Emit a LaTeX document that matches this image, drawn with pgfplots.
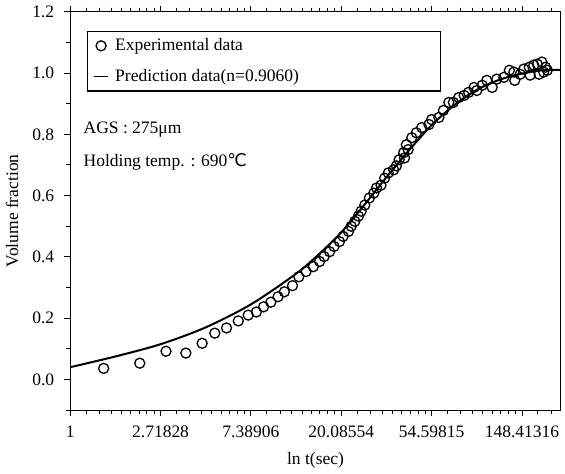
\documentclass[border=0pt]{standalone}
\usepackage{pgfplots}
\pgfplotsset{compat=1.18}
\usepackage{fontspec}
\setmainfont{Liberation Serif}
\newfontfamily\dejavu{DejaVu Sans}
\begin{document}
\fontsize{17.5}{21}\selectfont
\begin{tikzpicture}
\begin{axis}[
  scale only axis,
  width=489bp, height=397bp,
  xmin=0, xmax=5.43,
  ymin=-0.1, ymax=1.2,
  axis line style={line width=1.1bp},
  tick style={line width=0.9bp, black},
  tick align=outside,
  xtick pos=both,
  ytick pos=left,
  major tick length=6bp,
  minor tick length=4bp,
  xtick={0,1,2,3,4,5},
  xticklabels={1,2.71828,7.38906,20.08554,54.59815,148.41316},
  minor xtick={0.17473,0.32342,0.45284,0.56740,0.67020,0.76338,0.84862,0.92720,
    1.17473,1.32342,1.45284,1.56740,1.67020,1.76338,1.84862,1.92720,
    2.17473,2.32342,2.45284,2.56740,2.67020,2.76338,2.84862,2.92720,
    3.17473,3.32342,3.45284,3.56740,3.67020,3.76338,3.84862,3.92720,
    4.17473,4.32342,4.45284,4.56740,4.67020,4.76338,4.84862,4.92720,
    5.17473,5.32342},
  ytick={0,0.2,0.4,0.6,0.8,1.0,1.2},
  minor ytick={-0.1,0.1,0.3,0.5,0.7,0.9,1.1},
  yticklabel style={xshift=-4bp, /pgf/number format/.cd, fixed, fixed zerofill, precision=1},
  /pgf/number format/assume math mode=true,
  xticklabel style={yshift=-4bp},
  xlabel={ln t(sec)},
  ylabel={Volume fraction},
  xlabel style={yshift=-2bp},
  ylabel style={yshift=2bp},
  legend style={at={(0.035,0.952)}, anchor=north west, draw=black, line width=1.1bp,
    row sep=12bp, inner xsep=5bp, inner ysep=5bp, font=\fontsize{17.5}{21}\selectfont},
  legend cell align=left,
]
\addplot[only marks, mark=o, mark size=5bp, mark options={line width=1.3bp, fill=white}, black] coordinates {
(0.37,0.036) (0.77,0.053) (1.06,0.092) (1.28,0.086) (1.46,0.118) (1.60,0.151)
(1.73,0.168) (1.86,0.191) (1.97,0.210) (2.06,0.220) (2.14,0.237) (2.22,0.252)
(2.30,0.270) (2.37,0.286) (2.46,0.306) (2.53,0.335) (2.61,0.352) (2.69,0.368)
(2.76,0.385) (2.81,0.401) (2.87,0.417) (2.92,0.434) (2.98,0.450) (3.02,0.467)
(3.08,0.483) (3.11,0.500) (3.15,0.516) (3.19,0.533) (3.22,0.549) (3.26,0.569)
(3.31,0.592) (3.36,0.608) (3.39,0.625) (3.44,0.634) (3.48,0.657) (3.52,0.674)
(3.58,0.684) (3.61,0.697) (3.64,0.717) (3.70,0.723) (3.69,0.740) (3.74,0.750)
(3.72,0.766) (3.78,0.789) (3.83,0.805) (3.89,0.822) (3.97,0.832) (4.00,0.848)
(4.08,0.855) (4.13,0.878) (4.19,0.904) (4.24,0.904) (4.30,0.920) (4.36,0.927)
(4.41,0.937) (4.47,0.953) (4.50,0.943) (4.56,0.960) (4.61,0.976) (4.67,0.953)
(4.72,0.980) (4.80,0.986) (4.86,1.009) (4.91,1.003) (4.92,0.976) (4.98,0.996)
(5.02,1.013) (5.08,1.019) (5.09,0.993) (5.13,1.026) (5.19,0.996) (5.17,1.029)
(5.22,1.036) (5.26,1.019) (5.28,1.009) (5.24,1.003)
};
\addlegendentry{\makebox[322bp][l]{\hspace{5bp}Experimental data}}
\addplot[black, line width=2bp, smooth,
  legend image code/.code={\draw[black, line width=1.2bp] (1bp,0bp) -- (15bp,0bp);}] coordinates {
(0,0.040) (0.5,0.075) (1.0,0.115) (1.5,0.170) (2.0,0.245) (2.5,0.345)
(2.75,0.408) (3.0,0.480) (3.25,0.568) (3.5,0.660) (3.75,0.748) (4.0,0.830)
(4.25,0.895) (4.5,0.945) (4.75,0.978) (5.0,0.998) (5.25,1.010) (5.43,1.010)
};
\addlegendentry{\makebox[322bp][l]{\hspace{5bp}Prediction data(n=0.9060)}}
\node[anchor=west, inner sep=0pt] at (rel axis cs:0.027,0.705) {AGS : 275μm};
\node[anchor=west, inner sep=0pt] at (rel axis cs:0.027,0.622) {Holding temp. : 690{\dejavu ℃}};
\end{axis}
\end{tikzpicture}
\end{document}
